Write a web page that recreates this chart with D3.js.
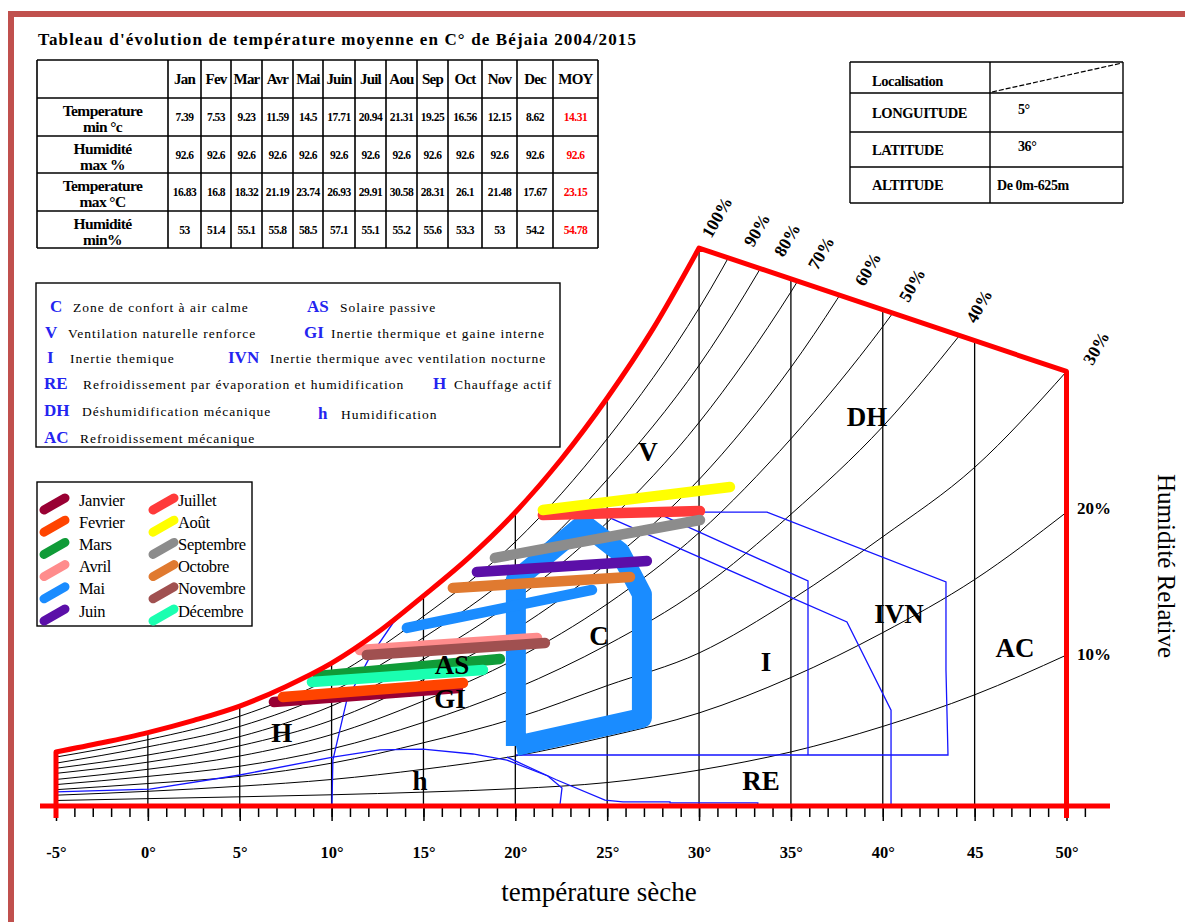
<!DOCTYPE html>
<html>
<head>
<meta charset="utf-8">
<script src="https://cdn.jsdelivr.net/npm/d3@7"></script>
<style>
body { margin: 0; background: #fff; }
svg text { font-family: "Liberation Serif", "Times New Roman", serif; }
</style>
</head>
<body>
<div id="chart"></div>
<script>
var width = 1185, height = 922;

// ---- table data (Béjaia 2004/2015)
var monthsShort = ["Jan","Fev","Mar","Avr","Mai","Juin","Juil","Aou","Sep","Oct","Nov","Dec","MOY"];
var rowLabels = [["Temperature","min °c"],["Humidité","max  %"],["Temperature","max °C"],["Humidité","min%"]];
var tempMin = [7.39,7.53,9.23,11.59,14.5,17.71,20.94,21.31,19.25,16.56,12.15,8.62];
var humMax  = [92.6,92.6,92.6,92.6,92.6,92.6,92.6,92.6,92.6,92.6,92.6,92.6];
var tempMax = [16.83,16.8,18.32,21.19,23.74,26.93,29.91,30.58,28.31,26.1,21.48,17.67];
var humMin  = [53,51.4,55.1,55.8,58.5,57.1,55.1,55.2,55.6,53.3,53,54.2];
var moy     = [14.31,92.6,23.15,54.78];

var locLabels = ["LONGUITUDE","LATITUDE","ALTITUDE"];
var locValues = ["5°","36°","De 0m-625m"];

// ---- psychrometric chart (x: dry temperature °C, y: humidity g/kg)
var satT = [-5,-2.5,0,2.5,5,7.5,10,12.5,15,17.5,20,22.5,25,27.5,30];
var satW = [2.65,3.1,3.6,4.2,4.9,5.85,7.0,8.5,10.3,12.2,14.4,17.0,20.0,23.4,27.35];
var topLine = [[30,27.35],[50,21.3]];

var rhTemps = [-5,0,5,10,15,20,25,30,35,40,45,50];
var rh90 = [2.4,3.25,4.4,6.3,9.3,12.95,18.0,24.4,32.7];
var rh80 = [2.1,2.9,3.9,5.6,8.25,11.5,16.0,21.6,28.9];
var rh70 = [1.85,2.5,3.4,4.9,7.2,10.1,13.9,18.8,25.2,33];
var rh60 = [1.6,2.15,2.95,4.2,6.2,8.65,11.9,16.0,21.5,28.4];
var rh50 = [1.3,1.8,2.45,3.5,5.15,7.2,9.9,13.4,18.0,23.5,30];
var rh40 = [1.05,1.45,1.95,2.8,4.1,5.75,7.9,10.6,14.3,18.6,24.0];
var rh30 = [0.8,1.1,1.45,2.1,3.1,4.3,5.9,7.5,10.1,13.2,16.6,21.3];
var rh20 = [0.53,0.72,0.97,1.3,1.8,2.45,3.4,4.56,6.3,8.5,11.1,14.4];
var rh10 = [0.27,0.36,0.45,0.55,0.68,0.85,1.15,1.76,2.65,3.9,5.45,7.4];
var rhSeries = [rh90,rh80,rh70,rh60,rh50,rh40,rh30,rh20,rh10];

var rhLabels = ["100%","90%","80%","70%","60%","50%","40%","30%"];
var rhLabelT = [30.97,33.15,34.79,36.64,39.19,41.59,45.24,51.61];
var rhLabelW = [28.87,28.24,27.75,27.11,26.32,25.54,24.51,22.45];
var sideLabels = ["20%","10%"];
var sideLabelW = [14.6,7.45];

var xTicks = [-5,0,5,10,15,20,25,30,35,40,45,50];
var xTickLabels = ["-5°","0°","5°","10°","15°","20°","25°","30°","35°","40°","45","50°"];

// zone boundaries (thin blue)
var zoneH  = [[10.02,0],[10.07,2.25],[10.83,5.2],[12.08,7.3],[13.34,8.97],[14.97,10.34]];
var zoneh  = [[-5,0.69],[0.11,0.83],[5.01,1.52],[10.07,2.4],[12.63,2.75],[14.97,2.79],[17.69,2.55],
              [19.54,2.25],[21.77,1.47],[22.54,0.88],[22.43,0.05],[20.03,0]];
var zoneRE = [[19.54,2.4],[22.2,1.3],[24.88,0.29],[25.86,0.2],[28.42,0.2],[28.42,0.15],[33.2,0.15],
              [33.2,0],[40.45,0],[40.45,4.7],[38.05,9.02],[25.15,14.12]];
var zoneIVN = [[24.6,14.41],[33.7,14.41],[43.44,10.98],[43.44,6.67],[43.55,2.5],[20.03,2.5]];
var zoneI  = [[27.6,14.41],[35.93,11.03],[35.93,2.5]];
var zoneLines = [zoneH, zoneh, zoneRE, zoneIVN, zoneI];

// comfort zone C (thick blue)
var comfort = [[20.03,2.94],[20.03,11.08],[23.73,13.82],[25.69,12.45],[26.89,10.39],[26.89,4.31],[20.03,2.94]];

// monthly lines (Tmin/RHmax -> Tmax/RHmin) as read on the chart
var monthNames = ["Janvier","Fevrier","Mars","Avril","Mai","Juin","Juillet","Août","Septembre","Octobre","Novembre","Décembre"];
var monthColors = ["#990033","#FF4400","#109B38","#FF8C8C","#1A8CFF","#5B0FA8","#FF3A3A","#FFFF00","#8C8C8C","#E07A30","#A05050","#1AFFB0"];
var lineT0 = [6.86,7.35,9.25,11.54,14.10,17.91,21.50,21.50,18.89,16.60,11.92,8.93];
var lineW0 = [5.10,5.34,6.37,7.65,8.73,11.47,14.26,14.51,12.16,10.69,7.40,6.08];
var lineT1 = [16.88,17.15,19.16,21.18,24.17,27.16,30.05,31.68,30.05,26.24,21.61,18.24];
var lineW1 = [5.78,6.03,7.21,8.24,10.59,12.01,14.46,15.64,14.02,11.23,7.99,6.67];

var zoneNames = ["V","DH","C","I","IVN","AC","RE","h","H","AS","GI"];
var zoneT = [27.22,39.14,24.55,33.64,40.88,47.2,33.37,14.81,7.29,16.55,16.44];
var zoneW = [17.35,19.07,8.33,7.06,9.41,7.75,1.23,1.23,3.58,6.91,5.25];

var strategyCodes = ["C","AS","V","GI","I","IVN","RE","H","DH","h","AC"];
var strategyTexts = ["Zone de confort à air calme","Solaire passive","Ventilation naturelle renforce",
  "Inertie thermique et  gaine interne","Inertie themique","Inertie thermique avec ventilation nocturne",
  "Refroidissement par évaporation et humidification","Chauffage actif","Déshumidification mécanique",
  "Humidification","Refroidissement mécanique"];

var svg = d3.select("#chart").append("svg")
  .attr("width", width)
  .attr("height", height);

// page frame
svg.append("rect").attr("x", 8).attr("y", 11).attr("width", 1177).attr("height", 6).attr("fill", "#C0504D");
svg.append("rect").attr("x", 8).attr("y", 11).attr("width", 6).attr("height", 911).attr("fill", "#C0504D");

// ---------- data table
svg.append("text")
  .attr("x", 38).attr("y", 45)
  .attr("font-size", 17).attr("font-weight", "bold")
  .attr("textLength", 598).attr("lengthAdjust", "spacing")
  .text("Tableau d'évolution de température moyenne en C° de Béjaia 2004/2015");

var colEdges = [37,168,201,231,262,293,323,355,386,417,448,482,517,553,598];
var rowEdges = [60,98,136,173,211,248];
var tbl = svg.append("g");
rowEdges.forEach(function(ry) {
  tbl.append("line").attr("x1", colEdges[0]).attr("x2", colEdges[colEdges.length-1])
    .attr("y1", ry).attr("y2", ry).attr("stroke", "#000").attr("stroke-width", 1.6);
});
colEdges.forEach(function(cx) {
  tbl.append("line").attr("x1", cx).attr("x2", cx)
    .attr("y1", rowEdges[0]).attr("y2", rowEdges[rowEdges.length-1]).attr("stroke", "#000").attr("stroke-width", 1.6);
});
monthsShort.forEach(function(m, i) {
  tbl.append("text")
    .attr("x", (colEdges[i+1] + colEdges[i+2]) / 2).attr("y", (rowEdges[0] + rowEdges[1]) / 2)
    .attr("text-anchor", "middle").attr("dominant-baseline", "central")
    .attr("font-size", 15).attr("font-weight", "bold").attr("letter-spacing", -0.8)
    .text(m);
});
var rows = [tempMin, humMax, tempMax, humMin];
rows.forEach(function(vals, r) {
  var top = rowEdges[r+1];
  rowLabels[r].forEach(function(l, k) {
    tbl.append("text")
      .attr("x", (colEdges[0] + colEdges[1]) / 2).attr("y", top + 12 + k * 16)
      .attr("text-anchor", "middle").attr("dominant-baseline", "central")
      .attr("font-size", 15.5).attr("font-weight", "bold").attr("letter-spacing", -0.6)
      .text(l);
  });
  vals.concat([moy[r]]).forEach(function(v, i) {
    tbl.append("text")
      .attr("x", (colEdges[i+1] + colEdges[i+2]) / 2).attr("y", top + 19)
      .attr("text-anchor", "middle").attr("dominant-baseline", "central")
      .attr("font-size", 11.5).attr("font-weight", "bold").attr("letter-spacing", -0.5)
      .attr("fill", i == 12 ? "#FF0000" : "#000")
      .text(v);
  });
});

// ---------- localisation table
var loc = svg.append("g");
var locRows = [62,93,132,167,203];
locRows.forEach(function(ry) {
  loc.append("line").attr("x1", 850).attr("x2", 1123).attr("y1", ry).attr("y2", ry)
    .attr("stroke", "#000").attr("stroke-width", 1.4);
});
[850,990,1123].forEach(function(cx) {
  loc.append("line").attr("x1", cx).attr("x2", cx).attr("y1", 62).attr("y2", 203)
    .attr("stroke", "#000").attr("stroke-width", 1.4);
});
loc.append("line").attr("x1", 992).attr("y1", 92).attr("x2", 1122).attr("y2", 63)
  .attr("stroke", "#000").attr("stroke-width", 1.2).attr("stroke-dasharray", "5,2");
loc.append("text").attr("x", 872).attr("y", 81).attr("dominant-baseline", "central")
  .attr("font-size", 14.5).attr("font-weight", "bold").attr("letter-spacing", -0.4).text("Localisation");
locLabels.forEach(function(l, i) {
  var cy = (locRows[i+1] + locRows[i+2]) / 2;
  loc.append("text").attr("x", 872).attr("y", cy).attr("dominant-baseline", "central")
    .attr("font-size", 14.5).attr("font-weight", "bold").attr("letter-spacing", -0.4).text(l);
  loc.append("text").attr("x", i == 2 ? 997 : 1018).attr("y", cy - (i == 2 ? 0 : 3)).attr("dominant-baseline", "central")
    .attr("font-size", 14).attr("font-weight", "bold").attr("letter-spacing", -0.4).text(locValues[i]);
});

// ---------- strategies legend
svg.append("rect").attr("x", 36).attr("y", 283).attr("width", 524).attr("height", 164)
  .attr("fill", "none").attr("stroke", "#000").attr("stroke-width", 1.4);
var stratLayout = [[50,73,306],[307,340,306],[45,68,332],[304,331,332],[47,70,357],[228,270,357],
                   [44,83,383],[433,454,383],[44,82,410],[318,341,413],[44,80,437]];
strategyCodes.forEach(function(c, i) {
  var p = stratLayout[i];
  svg.append("text").attr("x", p[0]).attr("y", p[2]).attr("dominant-baseline", "central")
    .attr("font-size", 17).attr("font-weight", "bold").attr("fill", "#2424F0").text(c);
  svg.append("text").attr("x", p[1]).attr("y", p[2] + 1).attr("dominant-baseline", "central")
    .attr("font-size", 13.5).attr("letter-spacing", 1).text(strategyTexts[i]);
});

// ---------- scales
var x = d3.scaleLinear().domain([-5, 50]).range([56, 1066.5]);
var y = d3.scaleLinear().domain([0, 30]).range([806, 194]);

var smooth = d3.line().x(function(d) { return x(d[0]); }).y(function(d) { return y(d[1]); }).curve(d3.curveMonotoneX);
var poly = d3.line().x(function(d) { return x(d[0]); }).y(function(d) { return y(d[1]); });

var satPts = satT.map(function(t, i) { return [t, satW[i]]; });
var satPath = smooth(satPts);
var clipD = satPath + "L" + x(topLine[1][0]) + "," + y(topLine[1][1]) +
  "L" + x(50) + "," + y(0) + "L" + x(-5) + "," + y(0) + "Z";

svg.append("defs").append("clipPath").attr("id", "psy").append("path").attr("d", clipD);

var grid = svg.append("g").attr("clip-path", "url(#psy)");
d3.range(0, 50, 5).forEach(function(t) {
  grid.append("line").attr("x1", x(t)).attr("x2", x(t)).attr("y1", y(0)).attr("y2", y(30))
    .attr("stroke", "#000").attr("stroke-width", 1.3);
});
rhSeries.forEach(function(s) {
  grid.append("path")
    .attr("d", smooth(s.map(function(w, i) { return [rhTemps[i], w]; })))
    .attr("fill", "none").attr("stroke", "#000").attr("stroke-width", 1);
});

// ---------- zones
zoneLines.forEach(function(z) {
  svg.append("path").attr("d", poly(z)).attr("fill", "none")
    .attr("stroke", "#1515FF").attr("stroke-width", 1.3);
});
svg.append("path").attr("d", poly(comfort)).attr("fill", "none")
  .attr("stroke", "#1A8CFF").attr("stroke-width", 20).attr("stroke-linejoin", "round");

// ---------- months
monthNames.forEach(function(m, i) {
  svg.append("line")
    .attr("x1", x(lineT0[i])).attr("y1", y(lineW0[i]))
    .attr("x2", x(lineT1[i])).attr("y2", y(lineW1[i]))
    .attr("stroke", monthColors[i]).attr("stroke-width", 10.5).attr("stroke-linecap", "round");
});

// zone labels
zoneNames.forEach(function(z, i) {
  svg.append("text").attr("x", x(zoneT[i])).attr("y", y(zoneW[i]))
    .attr("text-anchor", "middle").attr("dominant-baseline", "central")
    .attr("font-size", 27).attr("font-weight", "bold").text(z);
});

// ---------- axis ticks
var minorAxis = d3.axisBottom(x).tickValues(d3.range(-5, 52)).tickSize(11).tickFormat("");
var gMinor = svg.append("g").attr("transform", "translate(0," + y(0) + ")").call(minorAxis);
gMinor.select(".domain").remove();
gMinor.selectAll("line").attr("stroke", "#000").attr("stroke-width", 1.5);

var majorAxis = d3.axisBottom(x).tickValues(xTicks).tickSize(15).tickPadding(25)
  .tickFormat(function(d, i) { return xTickLabels[i]; });
var gMajor = svg.append("g").attr("transform", "translate(0," + y(0) + ")").call(majorAxis);
gMajor.select(".domain").remove();
gMajor.selectAll("line").attr("stroke", "#000").attr("stroke-width", 1.5);
gMajor.selectAll("text").attr("font-family", "Liberation Serif").attr("font-size", 16.5)
  .attr("font-weight", "bold").attr("fill", "#000");

// ---------- red boundary
svg.append("line").attr("x1", 40).attr("x2", 1110).attr("y1", y(0)).attr("y2", y(0))
  .attr("stroke", "#FF0000").attr("stroke-width", 5);
var outline = "M" + x(-5) + "," + (y(0) + 12) + "L" + satPath.slice(1) +
  "L" + x(topLine[1][0]) + "," + y(topLine[1][1]) + "L" + x(50) + "," + (y(0) + 12);
svg.append("path").attr("d", outline).attr("fill", "none")
  .attr("stroke", "#FF0000").attr("stroke-width", 5).attr("stroke-linejoin", "round");

// ---------- RH labels
rhLabels.forEach(function(l, i) {
  svg.append("text")
    .attr("transform", "translate(" + x(rhLabelT[i]) + "," + y(rhLabelW[i]) + ") rotate(-60)")
    .attr("text-anchor", "middle").attr("dominant-baseline", "central")
    .attr("font-size", 17.5).attr("font-weight", "bold").text(l);
});
sideLabels.forEach(function(l, i) {
  svg.append("text").attr("x", 1077).attr("y", y(sideLabelW[i]))
    .attr("dominant-baseline", "central")
    .attr("font-size", 17).attr("font-weight", "bold").text(l);
});

svg.append("text")
  .attr("transform", "translate(1166,566) rotate(90)")
  .attr("text-anchor", "middle").attr("dominant-baseline", "central")
  .attr("font-size", 25).text("Humidité Relative");

svg.append("text").attr("x", 599).attr("y", 901).attr("text-anchor", "middle")
  .attr("font-size", 27).text("température sèche");

// ---------- months legend
svg.append("rect").attr("x", 37).attr("y", 482).attr("width", 215).attr("height", 144)
  .attr("fill", "#fff").attr("stroke", "#000").attr("stroke-width", 1.4);
monthNames.forEach(function(m, i) {
  var col = i < 6 ? 0 : 1, row = i % 6;
  var ly = 500 + row * 22.2;
  var ix = col == 0 ? 44 : 153;
  svg.append("line").attr("x1", ix).attr("y1", ly + 10).attr("x2", ix + 21).attr("y2", ly - 2)
    .attr("stroke", monthColors[i]).attr("stroke-width", 9).attr("stroke-linecap", "round");
  svg.append("text").attr("x", col == 0 ? 79 : 178).attr("y", ly)
    .attr("dominant-baseline", "central").attr("font-size", 16.5).attr("letter-spacing", -0.3)
    .text(m);
});
</script>
</body>
</html>
